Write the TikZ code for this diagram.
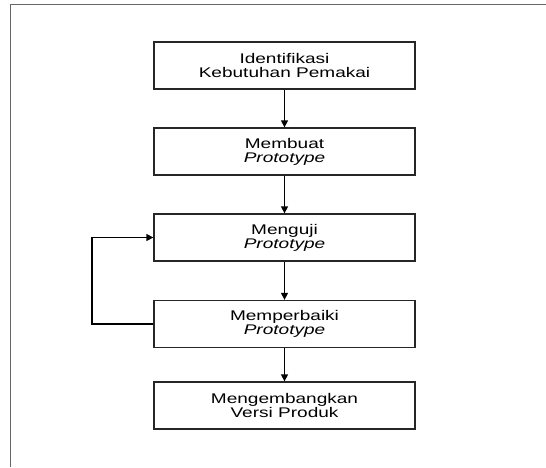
\documentclass[tikz,border=0pt]{standalone}
\usepackage{fontspec}
\usepackage{graphicx}
\setmainfont{Liberation Sans}
\usetikzlibrary{arrows.meta}
% wide two-line label
\newcommand\steplabel[2]{\scalebox{1.36}[1]{\parbox{160pt}{\centering\fontsize{14}{14}\selectfont #1\\#2}}}
\begin{document}
\begin{tikzpicture}[x=1pt,y=1pt,
  stepbox/.style={draw=black!85, line width=1.3pt, minimum width=261pt, minimum height=47pt,
    inner sep=0pt},
  flow/.style={draw=black, line width=1.3pt, -{Triangle[length=7pt,width=7pt]}}]
  \useasboundingbox (0,0) rectangle (546,-467);
  % page frame edges
  \draw[black!60, line width=1pt] (10,-467) -- (10,-4) -- (546,-4);
  % process steps
  \node[stepbox] (s1) at (284.5,-65.5) {\steplabel{Identifikasi}{Kebutuhan Pemakai}};
  \node[stepbox] (s2) at (284.5,-151.5) {\steplabel{Membuat}{\textit{Prototype}}};
  \node[stepbox] (s3) at (284.5,-237.5) {\steplabel{Menguji}{\textit{Prototype}}};
  \node[stepbox] (s4) at (284.5,-324) {\steplabel{Memperbaiki}{\textit{Prototype}}};
  \node[stepbox] (s5) at (284.5,-405.5) {\steplabel{Mengembangkan}{Versi Produk}};
  % connectors
  \draw[flow] (s1) -- (s2);
  \draw[flow] (s2) -- (s3);
  \draw[flow] (s3) -- (s4);
  \draw[flow] (s4) -- (s5);
  \coordinate (loopx) at (92,0);
  \draw[flow] (s4.west) -- (s4.west -| loopx) -- (s3.west -| loopx) -- (s3.west);
\end{tikzpicture}
\end{document}
